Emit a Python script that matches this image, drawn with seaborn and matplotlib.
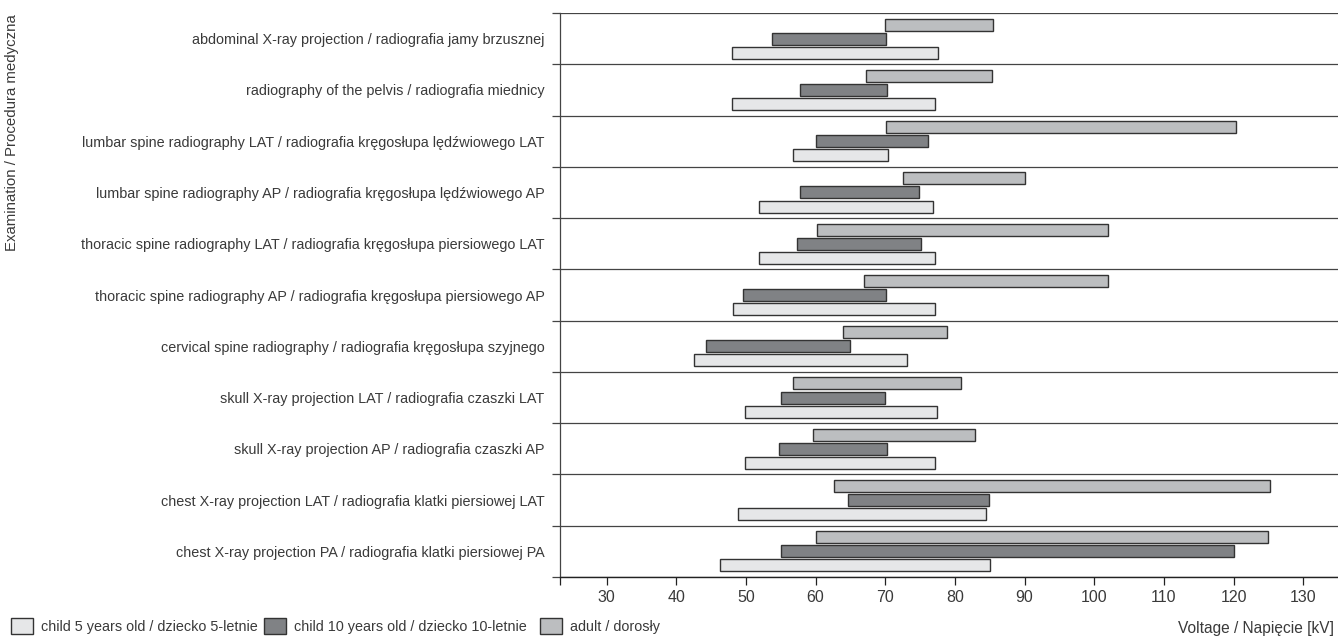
import numpy as np
import pandas as pd
import matplotlib
matplotlib.use("Agg")
import matplotlib.pyplot as plt
from matplotlib.patches import Patch
import seaborn as sns

# examinations, top to bottom
exams = [
    "abdominal X-ray projection / radiografia jamy brzusznej",
    "radiography of the pelvis / radiografia miednicy",
    "lumbar spine radiography LAT / radiografia kręgosłupa lędźwiowego LAT",
    "lumbar spine radiography AP / radiografia kręgosłupa lędźwiowego AP",
    "thoracic spine radiography LAT / radiografia kręgosłupa piersiowego LAT",
    "thoracic spine radiography AP / radiografia kręgosłupa piersiowego AP",
    "cervical spine radiography / radiografia kręgosłupa szyjnego",
    "skull X-ray projection LAT / radiografia czaszki LAT",
    "skull X-ray projection AP / radiografia czaszki AP",
    "chest X-ray projection LAT / radiografia klatki piersiowej LAT",
    "chest X-ray projection PA / radiografia klatki piersiowej PA",
]
groups = [
    "child 5 years old / dziecko 5-letnie",
    "child 10 years old / dziecko 10-letnie",
    "adult / dorosły",
]

# voltage ranges [kV]
child5_lo = [48.0, 48.0, 56.7, 51.8, 51.8, 48.1, 42.6, 49.8, 49.8, 48.8, 46.2]
child5_hi = [77.5, 77.2, 70.4, 76.9, 77.2, 77.1, 73.1, 77.4, 77.1, 84.5, 85.1]
child10_lo = [53.8, 57.8, 60.0, 57.8, 57.3, 49.6, 44.3, 55.0, 54.7, 64.7, 55.1]
child10_hi = [70.1, 70.3, 76.1, 74.8, 75.1, 70.1, 65.0, 69.9, 70.2, 84.9, 120.0]
adult_lo = [70.0, 67.3, 70.1, 72.6, 60.2, 67.0, 64.0, 56.8, 59.6, 62.7, 60.1]
adult_hi = [85.5, 85.3, 120.3, 90.0, 102.0, 102.0, 78.9, 80.9, 82.9, 125.2, 124.9]

x_ticks = list(range(30, 131, 10))

df = pd.DataFrame({
    "exam": exams * 3,
    "group": np.repeat(groups, len(exams)),
    "lo": child5_lo + child10_lo + adult_lo,
    "hi": child5_hi + child10_hi + adult_hi,
})

sns.set_style("white")
plt.rcParams["font.family"] = ["Liberation Sans", "DejaVu Sans"]
text_col = "#3a3a3a"
edge_col = "#333333"
palette = dict(zip(groups, ["#e6e7e8", "#808285", "#bcbec0"]))
offsets = dict(zip(groups, [0.275, 0.0, -0.275]))

fig = plt.figure(figsize=(13.38, 6.37), dpi=100)
ax = fig.add_axes([560 / 1338, 1 - 577 / 637, 1 - 560 / 1338, (577 - 13) / 637])

pos = {e: i for i, e in enumerate(exams)}
for g, sub in df.groupby("group", sort=False):
    y = sub["exam"].map(pos) + offsets[g]
    ax.barh(y, sub["hi"] - sub["lo"], left=sub["lo"], height=0.235,
            color=palette[g], edgecolor=edge_col, linewidth=1.0, zorder=3)

ax.set_xlim(23.3, 135)
ax.set_ylim(len(exams) - 0.5, -0.5)

ax.set_yticks(range(len(exams)))
ax.set_yticklabels(exams, fontsize=10.4, color=text_col)
ax.tick_params(axis="y", which="major", length=0, pad=11)
ax.set_yticks(np.arange(-0.5, len(exams)), minor=True)
ax.tick_params(axis="y", which="minor", length=6, width=0.9, color="#444444",
               direction="out", left=True)
ax.grid(True, axis="y", which="minor", color="#444444", linewidth=0.9)

ax.set_xticks(x_ticks)
ax.set_xticks([23.3], minor=True)
ax.tick_params(axis="x", which="both", length=6, width=0.9, color="#222222",
               direction="out", bottom=True, labelsize=11.5, labelcolor=text_col, pad=3)

for s in ["top", "right"]:
    ax.spines[s].set_visible(False)
ax.spines["left"].set_color("#444444")
ax.spines["left"].set_linewidth(0.9)
ax.spines["bottom"].set_color("#222222")
ax.spines["bottom"].set_linewidth(1.0)

fig.text(12 / 1338, 1 - 14 / 637, "Examination / Procedura medyczna", rotation=90,
         ha="center", va="top", fontsize=10.8, color=text_col)
fig.text(1334 / 1338, 1 - 628 / 637, "Voltage / Napięcie [kV]",
         ha="right", va="center", fontsize=11.2, color=text_col)

# legend entries, each placed on its own
for g, x0 in zip(groups, [11, 264, 540]):
    h = Patch(facecolor=palette[g], edgecolor=edge_col, linewidth=1.0)
    fig.legend(handles=[h], labels=[g], loc="lower left",
               bbox_to_anchor=(x0 / 1338, 0.004), frameon=False, fontsize=10.4,
               borderpad=0, borderaxespad=0, handlelength=1.5, handleheight=1.35,
               handletextpad=0.6, labelcolor=text_col)

fig.savefig("out.png", dpi=100)
